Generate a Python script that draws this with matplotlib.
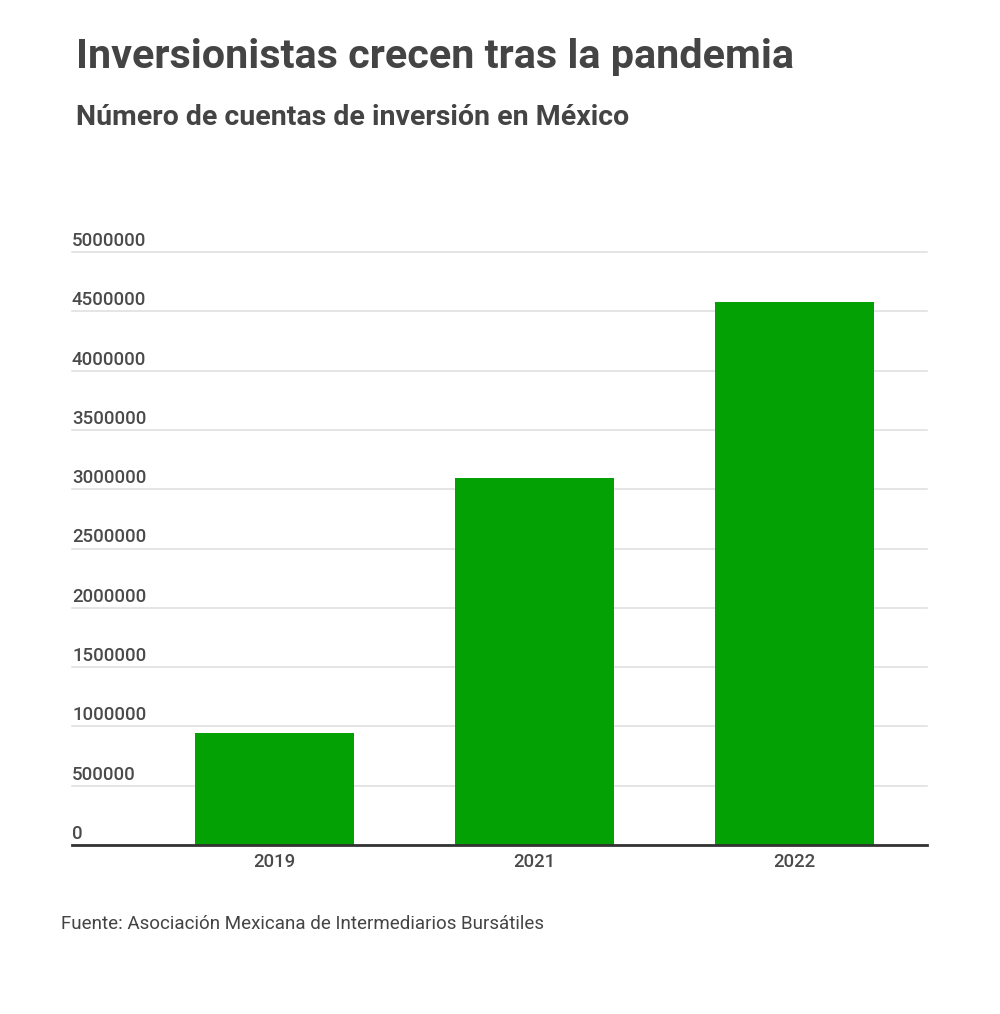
import matplotlib
matplotlib.use('agg')
import matplotlib.pyplot as plt
import matplotlib.transforms as mtransforms

# data
years = ['2019', '2021', '2022']
cuentas = [945000, 3098000, 4575000]
y_ticks = [0, 500000, 1000000, 1500000, 2000000, 2500000,
           3000000, 3500000, 4000000, 4500000, 5000000]

plt.rcParams['font.family'] = ['Roboto', 'DejaVu Sans']

fig = plt.figure(figsize=(10, 10.14), dpi=100)
fig.patch.set_facecolor('white')

# axes box in figure fractions (left 72px, right 927px, bottom 845px, top 252px)
ax = fig.add_axes([0.072, 1 - 845 / 1014, 0.855, (845 - 252) / 1014])

x = list(range(len(years)))
ax.bar(x, cuentas, width=0.61, color='#03a103', zorder=3)

ax.set_xlim(-0.78, 2.51)
ax.set_ylim(0, 5000000)
ax.set_xticks(x)
ax.set_xticklabels(years)
ax.set_yticks(y_ticks)
ax.set_yticklabels([str(v) for v in y_ticks])

ax.grid(axis='y', color='#dedede', linewidth=1.1, zorder=0)
for gl in ax.get_ygridlines():
    gl.set_clip_on(False)

for side in ['top', 'right', 'left']:
    ax.spines[side].set_visible(False)
ax.spines['bottom'].set_color('#333333')
ax.spines['bottom'].set_linewidth(2)
ax.spines['bottom'].set_zorder(4)

ax.tick_params(axis='both', length=0, colors='#4a4a4a', labelsize=13.4)
ax.tick_params(axis='x', pad=6)
ax.tick_params(axis='y', pad=0)

# y labels sit inside the plot, left aligned just above each gridline
offset = mtransforms.ScaledTranslation(0, 2 / 100, fig.dpi_scale_trans)
for lab in ax.get_yticklabels():
    lab.set_horizontalalignment('left')
    lab.set_verticalalignment('bottom')
    lab.set_transform(lab.get_transform() + offset)
for lab in ax.get_xticklabels() + ax.get_yticklabels():
    lab.set_fontweight('medium')

fig.text(0.076, 1 - 68 / 1014, 'Inversionistas crecen tras la pandemia',
         fontsize=29.8, fontweight='bold', color='#444444', va='baseline')
fig.text(0.076, 1 - 125 / 1014, 'Número de cuentas de inversión en México',
         fontsize=20.5, fontweight='bold', color='#444444', va='baseline')
fig.text(0.061, 1 - 929 / 1014, 'Fuente: Asociación Mexicana de Intermediarios Bursátiles',
         fontsize=13.5, color='#444444', va='baseline')

plt.savefig('out.png', dpi=100, facecolor='white')
